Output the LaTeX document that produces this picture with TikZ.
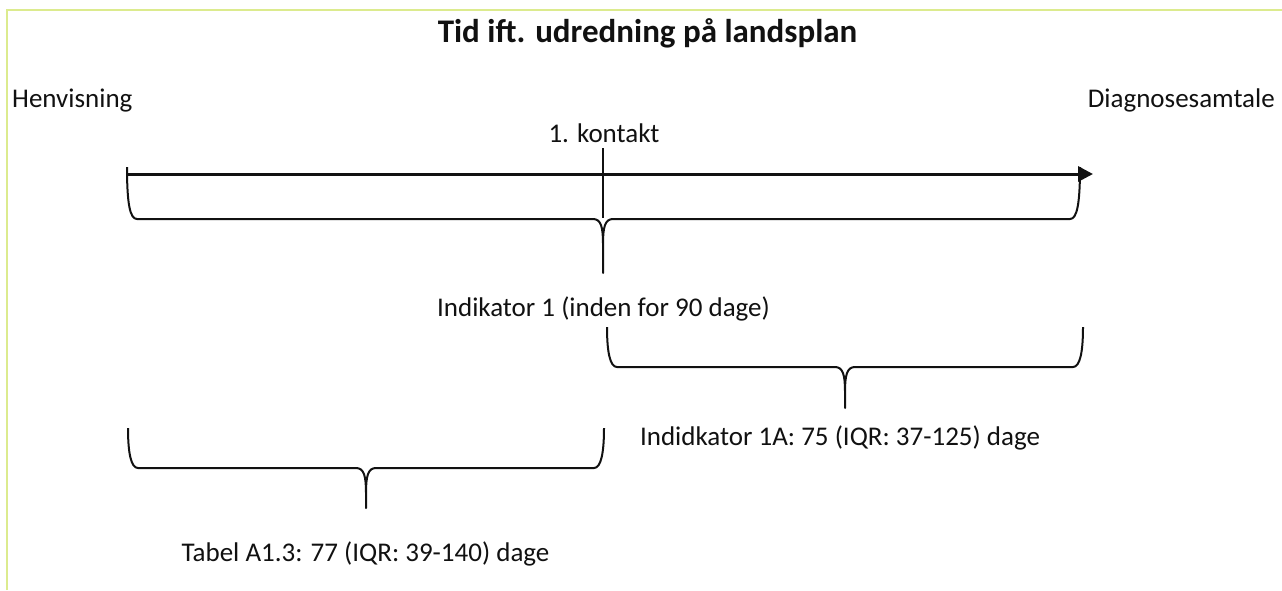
\documentclass[tikz,border=0pt]{standalone}
\usepackage{fontspec}
\setmainfont{Carlito}
\usetikzlibrary{arrows.meta}
\definecolor{frame}{HTML}{DCEB8E}
\definecolor{ink}{HTML}{111111}
\tikzset{
  lbl/.style={inner sep=0pt, anchor=base, text=ink, font=\fontsize{27}{32}\selectfont},
  ttl/.style={inner sep=0pt, anchor=base, text=ink, font=\fontsize{33}{40}\selectfont\bfseries},
  brc/.style={draw=ink, line width=2pt, line join=round},
  axis/.style={draw=ink, line width=3pt, -{Triangle[length=15pt,width=15pt]}},
  tick/.style={draw=ink, line width=2pt}
}
\newcommand{\mybrace}[6]{% x1 x2 ytop yh xm ytip
  \draw[brc] (#1,#3) .. controls (#1,#4-15) and (#1+3,#4) .. (#1+10,#4)
    -- (#5-10,#4) .. controls (#5-2,#4) and (#5,#4+8) .. (#5,#4+25) -- (#5,#6)
    -- (#5,#4+25) .. controls (#5,#4+8) and (#5+2,#4) .. (#5+10,#4)
    -- (#2-10,#4) .. controls (#2-3,#4) and (#2,#4-15) .. (#2,#3);}
\begin{document}
\begin{tikzpicture}[x=1pt,y=-1pt]
\useasboundingbox (0,0) rectangle (1282,590);
\fill[white] (0,0) rectangle (1282,590);
\draw[frame, line width=1.5pt] (7,590) -- (7,10) -- (1282,10);
\node[ttl] (title) at (647.5,42) {Tid ift. udredning på landsplan};
\node[lbl, anchor=base west] (henv) at (12,107) {Henvisning};
\node[lbl, anchor=base east] (diag) at (1275,107) {Diagnosesamtale};
\node[lbl] (kontakt) at (604,142) {1. kontakt};
\coordinate (start) at (127,174);
\coordinate (end) at (1093,174);
\draw[axis] (start) -- (end);
\coordinate (t1) at (603,148);
\coordinate (t2) at (603,218);
\draw[tick] (t1) -- (t2);
\mybrace{127}{1080}{167}{219}{603}{273}
\node[lbl] (ind1) at (603.5,316) {Indikator 1 (inden for 90 dage)};
\mybrace{607}{1083}{327}{367}{845}{408}
\node[lbl] (ind1a) at (840,445) {Indidkator 1A: 75 (IQR: 37-125) dage};
\mybrace{128}{604}{428}{468}{366}{508}
\node[lbl] (tabel) at (365.5,561) {Tabel A1.3: 77 (IQR: 39-140) dage};
\end{tikzpicture}
\end{document}
